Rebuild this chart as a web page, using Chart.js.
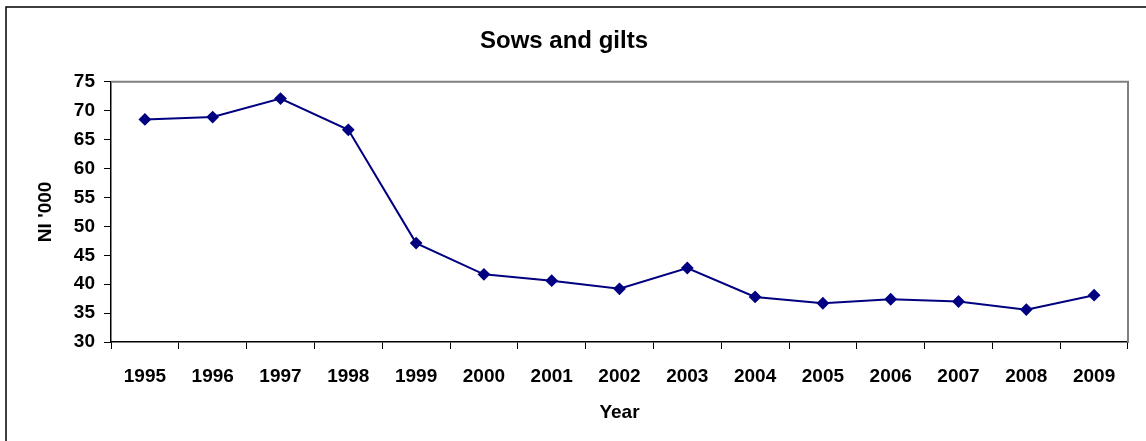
<!DOCTYPE html>
<html>
<head>
<meta charset="utf-8">
<script src="https://cdn.jsdelivr.net/npm/chart.js@4/dist/chart.umd.min.js"></script>
<style>
  body { margin: 0; background: #fff; }
  #wrap { width: 1146px; height: 441px; }
</style>
</head>
<body>
<div id="wrap"><canvas id="myChart" width="1146" height="441"></canvas></div>
<script>
// data (thousands of sows and gilts, NI)
let years = ["1995", "1996", "1997", "1998", "1999", "2000", "2001", "2002",
    "2003", "2004", "2005", "2006", "2007", "2008", "2009"];
let sows = [68.5, 68.9, 72.1, 66.7, 47.1, 41.7, 40.6, 39.2,
    42.8, 37.8, 36.7, 37.4, 37.0, 35.6, 38.1];
let yMin = 30;
let yMax = 75;
let yStep = 5;

let fontFam = "'Liberation Sans', Arial, sans-serif";

// grey box on top/right of plot + outer frame
let framePlugin = {
    id: "frame",
    afterDraw: (chart) => {
        var ctx = chart.ctx;
        var a = chart.chartArea;
        ctx.save();
        ctx.strokeStyle = "#808080";
        ctx.lineWidth = 2;
        ctx.beginPath();
        ctx.moveTo(a.left, a.top);
        ctx.lineTo(a.right, a.top);
        ctx.lineTo(a.right, a.bottom);
        ctx.stroke();
        ctx.strokeStyle = "#000";
        ctx.lineWidth = 1.5;
        ctx.beginPath();
        ctx.moveTo(6, 445);
        ctx.lineTo(6, 7);
        ctx.lineTo(1150, 7);
        ctx.stroke();
        ctx.restore();
    },
};

let drawChart = () => {
    var ctx = document.getElementById("myChart").getContext("2d");
    var myChart = new Chart(ctx, {
        type: "line",
        data: {
            labels: years,
            datasets: [
                {
                    label: "Sows and gilts",
                    data: sows,
                    borderColor: "#000080",
                    backgroundColor: "#000080",
                    borderWidth: 2,
                    pointStyle: "rectRot",
                    pointRadius: 5,
                    pointBackgroundColor: "#000080",
                    pointBorderColor: "#000080",
                    tension: 0,
                },
            ],
        },
        options: {
            responsive: false,
            animation: false,
            layout: {
                padding: { left: 0, right: 18, top: 0, bottom: 0 },
            },
            plugins: {
                legend: { display: false },
                tooltip: { enabled: false },
                title: {
                    display: true,
                    text: "Sows and gilts",
                    color: "#000",
                    font: { family: fontFam, size: 24, weight: "bold" },
                    padding: { top: 27, bottom: 26 },
                },
            },
            scales: {
                x: {
                    offset: true,
                    grid: {
                        offset: true,
                        drawOnChartArea: false,
                        drawTicks: true,
                        tickLength: 7,
                        tickColor: "#000",
                    },
                    border: { color: "#000", width: 1.5 },
                    ticks: {
                        color: "#000",
                        font: { family: fontFam, size: 19, weight: "bold" },
                        padding: 16,
                        maxRotation: 0,
                        autoSkip: false,
                    },
                    title: {
                        display: true,
                        text: "Year",
                        color: "#000",
                        font: { family: fontFam, size: 19, weight: "bold" },
                        padding: { top: 0, bottom: 17 },
                    },
                    afterFit: (scale) => {
                        scale.height = 99;
                    },
                },
                y: {
                    min: yMin,
                    max: yMax,
                    grid: {
                        drawOnChartArea: false,
                        drawTicks: true,
                        tickLength: 7,
                        tickColor: "#000",
                    },
                    border: { color: "#000", width: 1.5 },
                    ticks: {
                        stepSize: yStep,
                        color: "#000",
                        font: { family: fontFam, size: 19, weight: "bold" },
                        padding: 9,
                    },
                    title: {
                        display: true,
                        text: "NI '000",
                        color: "#000",
                        font: { family: fontFam, size: 19, weight: "bold" },
                        padding: { top: 34, bottom: 0 },
                    },
                    afterFit: (scale) => {
                        scale.width = 111;
                    },
                },
            },
        },
        plugins: [framePlugin],
    });
    return myChart;
};
drawChart();
</script>
</body>
</html>
